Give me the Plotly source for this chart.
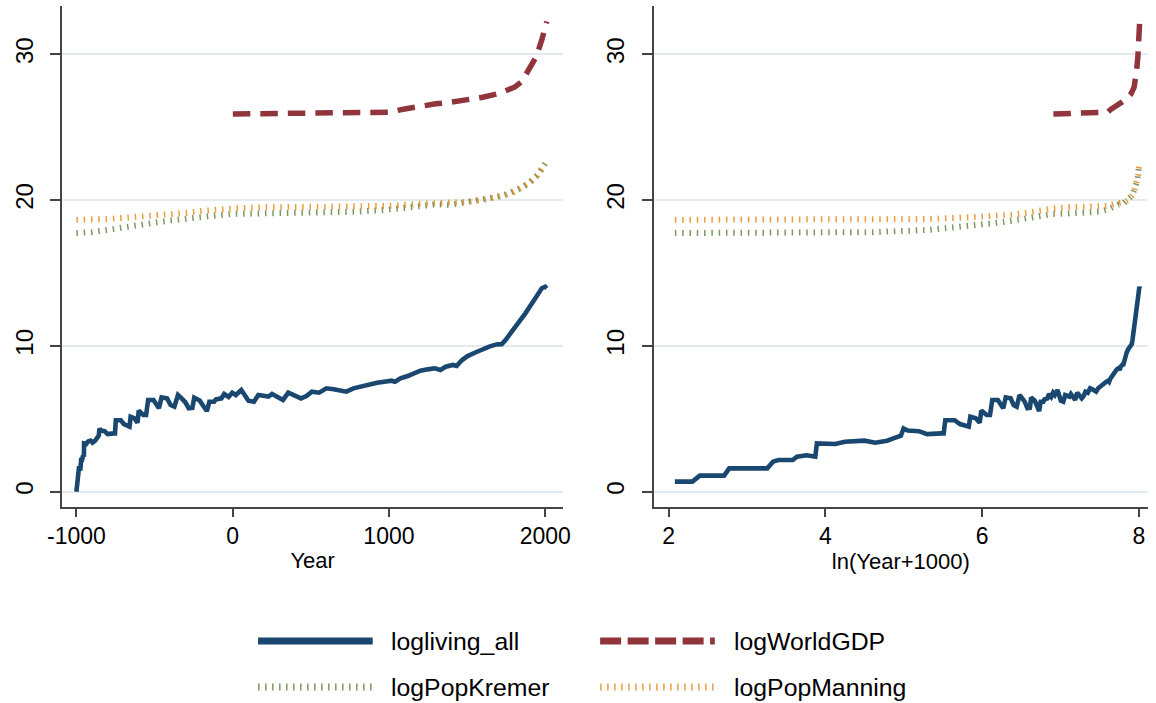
import numpy as np
import plotly.graph_objects as go

# ---- data -------------------------------------------------------------
living_year = [-1000, -992, -990, -989, -985, -984, -974, -972, -970, -964,
               -962, -957, -952, -951, -938, -930, -925, -910, -897, -880,
               -870, -864, -857, -852, -844, -820, -800, -760, -753, -748,
               -716, -696, -660, -653, -628, -609, -601, -572, -554, -541,
               -507, -472, -455, -420, -397, -373, -350, -327, -304, -281,
               -258, -246, -211, -188, -165, -149, -119, -107, -72, -54,
               -26, -3, 20, 55, 78, 101, 136, 164, 206, 229,
               252, 287, 322, 356, 391, 437, 472, 507, 553, 600,
               646, 692, 727, 773, 831, 877, 924, 970, 1016, 1039,
               1074, 1120, 1155, 1201, 1248, 1294, 1329, 1363, 1410, 1433,
               1468, 1503, 1549, 1596, 1642, 1688, 1722, 1746, 1804, 1873,
               1943, 1978, 2000, 2010]
living_val = [0.0, 0.69, 0.69, 1.1, 1.1, 1.6, 1.6, 2.06, 2.17, 2.17,
              2.4, 2.5, 2.4, 3.31, 3.27, 3.43, 3.45, 3.5, 3.36, 3.5,
              3.66, 3.77, 3.84, 4.34, 4.2, 4.15, 3.95, 4.0, 4.0, 4.9,
              4.9, 4.64, 4.46, 5.14, 5.03, 4.73, 5.56, 5.26, 5.26, 6.29,
              6.29, 5.72, 6.47, 6.4, 5.94, 5.83, 6.63, 6.4, 6.15, 5.72,
              5.75, 6.45, 6.25, 5.88, 5.53, 6.17, 6.17, 6.33, 6.4, 6.7,
              6.5, 6.79, 6.63, 6.97, 6.63, 6.24, 6.17, 6.63, 6.56, 6.52,
              6.7, 6.47, 6.29, 6.79, 6.63, 6.4, 6.56, 6.86, 6.79, 7.09,
              7.02, 6.93, 6.86, 7.09, 7.25, 7.38, 7.47, 7.54, 7.61, 7.54,
              7.77, 7.93, 8.12, 8.3, 8.39, 8.46, 8.35, 8.57, 8.69, 8.62,
              9.03, 9.3, 9.53, 9.76, 9.95, 10.1, 10.12, 10.4, 11.2, 12.23,
              13.37, 13.95, 14.06, 13.95]

gdp_year = [1, 1000, 1100, 1200, 1300, 1400, 1500, 1600, 1700, 1804,
            1850, 1897, 1943, 1978, 2010]
gdp_val = [25.9, 26.03, 26.25, 26.45, 26.6, 26.72, 26.87, 27.05, 27.3, 27.74,
           28.13, 28.93, 29.84, 30.98, 32.25]

kremer_year = [-1000, -992, -900, -800, -700, -600, -500, -400, -300, -200,
               -100, 0, 200, 400, 600, 800, 1000, 1100, 1200, 1300,
               1400, 1500, 1600, 1700, 1750, 1800, 1850, 1900, 1920, 1940,
               1950, 1960, 1970, 1980, 1990, 2000]
kremer_val = [17.74, 17.74, 17.8, 17.95, 18.15, 18.3, 18.45, 18.6, 18.75, 18.85,
              18.95, 19.05, 19.08, 19.1, 19.12, 19.2, 19.35, 19.5, 19.65, 19.7,
              19.68, 19.85, 20.07, 20.25, 20.4, 20.6, 20.85, 21.2, 21.35, 21.55,
              21.7, 21.85, 22.05, 22.25, 22.45, 22.5]

manning_year = [-1000, -992, -900, -800, -700, -600, -500, -400, -300, -200,
                -100, 0, 200, 400, 600, 800, 1000, 1200, 1400, 1500,
                1600, 1700, 1750, 1800, 1850, 1900, 1950, 2000]
manning_val = [18.65, 18.65, 18.66, 18.7, 18.78, 18.85, 18.92, 19.0, 19.12, 19.25,
               19.35, 19.42, 19.5, 19.52, 19.52, 19.55, 19.6, 19.75, 19.82, 19.88,
               20.0, 20.2, 20.35, 20.55, 20.85, 21.2, 21.7, 22.5]

y_ticks = [0, 10, 20, 30]
year_ticks = [-1000, 0, 1000, 2000]
year_tick_text = ["-1000", "0", "1000", "2000"]
ln_ticks = [2, 4, 6, 8]


def ln_year(years):
    """ln(Year+1000); the year -1000 itself has no finite value."""
    shifted = np.asarray(years, dtype=float) + 1000.0
    out = np.full(shifted.shape, np.nan)
    ok = shifted > 0
    out[ok] = np.log(shifted[ok])
    return out


# ---- styles -----------------------------------------------------------
NAVY = "#1a476f"
MAROON = "#90353b"
GREEN = "#55752f"
ORANGE = "#e37e00"
AXIS = "#444444"
GRID = "#e3ebf0"
FONT = "Liberation Sans, Arial, Helvetica, sans-serif"

series = [
    ("logliving_all", living_year, living_val, dict(color=NAVY, width=4.6), 1.0),
    ("logWorldGDP", gdp_year, gdp_val, dict(color=MAROON, width=5.5, dash="17.5px,10px"), 1.0),
    ("logPopKremer", kremer_year, kremer_val, dict(color=GREEN, width=6, dash="1.5px,5.8px"), 0.75),
    ("logPopManning", manning_year, manning_val, dict(color=ORANGE, width=6, dash="1.5px,5.8px"), 0.75),
]

fig = go.Figure()
# draw order: populations under GDP under living standards
for idx in [2, 3, 1, 0]:
    name, yrs, vals, line, alpha = series[idx]
    fig.add_trace(go.Scatter(x=yrs, y=vals, mode="lines", name=name, line=line,
                             opacity=alpha, showlegend=False, xaxis="x", yaxis="y"))
    fig.add_trace(go.Scatter(x=ln_year(yrs), y=vals, mode="lines", name=name, line=line,
                             opacity=alpha, showlegend=False, xaxis="x2", yaxis="y2",
                             connectgaps=False))

W, H = 1156, 703
y_dom = [1 - 506.7 / H, 1 - 6.0 / H]

common_x = dict(showline=True, linecolor=AXIS, linewidth=2, ticks="outside",
                ticklen=8, tickwidth=1.5, tickcolor=AXIS, showgrid=False,
                zeroline=False, tickfont=dict(size=23, color="black", family=FONT),
                title_font=dict(size=22, color="black", family=FONT))
common_y = dict(showline=True, linecolor=AXIS, linewidth=2, ticks="outside",
                ticklen=10, tickwidth=1.5, tickcolor=AXIS, showgrid=True,
                gridcolor=GRID, gridwidth=1.6, zeroline=False, tickangle=-90,
                tickvals=y_ticks, range=[-1.03, 33.31], domain=y_dom,
                ticklabelstandoff=8,
                tickfont=dict(size=24, color="black", family=FONT))

fig.update_layout(
    width=W, height=H, margin=dict(l=0, r=0, t=0, b=0),
    paper_bgcolor="white", plot_bgcolor="white",
    font=dict(family=FONT, color="black"),
    xaxis=dict(domain=[48.3 / W, 559.0 / W], range=[-1090, 2113], tickvals=year_ticks,
               ticktext=year_tick_text, anchor="y",
               title=dict(text="Year", standoff=4), **common_x),
    yaxis=dict(anchor="x", **common_y),
    xaxis2=dict(domain=[651.7 / W, 1.0], range=[1.81, 8.116], tickvals=ln_ticks,
                anchor="y2", title=dict(text="ln(Year+1000)", standoff=4), **common_x),
    yaxis2=dict(anchor="x2", **common_y),
)

# ---- legend: key samples and labels ------------------------------------
legend_rows = [641.0 / H, 687.0 / H]
legend_cols = [(248.0 / W, 365.0 / W, 382.0 / W), (597.0 / W, 714.0 / W, 732.0 / W)]
legend_keys = [
    (0, 0, dict(color=NAVY, width=7), 1.0),
    (0, 1, dict(color=MAROON, width=7, dash="21px,6.5px"), 1.0),
    (1, 0, dict(color=GREEN, width=7, dash="1.5px,5.5px"), 0.75),
    (1, 1, dict(color=ORANGE, width=7, dash="1.5px,5.5px"), 0.75),
]
legend_names = ["logliving_all", "logWorldGDP", "logPopKremer", "logPopManning"]
for (row, col, line, alpha), label in zip(legend_keys, legend_names):
    x0, x1, xt = legend_cols[col]
    yy = 1 - legend_rows[row]
    fig.add_shape(type="line", xref="paper", yref="paper", x0=x0, x1=x1,
                  y0=yy, y1=yy, line=line, opacity=alpha)
    fig.add_annotation(xref="paper", yref="paper", x=xt, y=yy, text=label,
                       showarrow=False, xanchor="left", yanchor="middle",
                       font=dict(size=24.8, color="black", family=FONT))

fig.write_html("out.html")
